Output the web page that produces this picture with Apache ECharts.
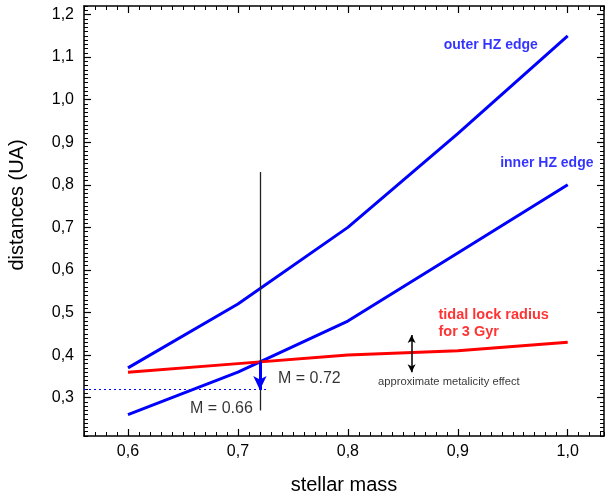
<!DOCTYPE html>
<html>
<head>
<meta charset="utf-8">
<script src="https://cdn.jsdelivr.net/npm/echarts@6/dist/echarts.min.js"></script>
<style>
  html, body { margin: 0; padding: 0; background: #fff; }
  #chart { width: 611px; height: 497px; }
</style>
</head>
<body>
<div id="chart"></div>
<script>
// stellar mass on x, distances (UA) on y
const mass = [0.6, 0.7, 0.8, 0.9, 1.0];
const outerHZ = [0.37, 0.52, 0.70, 0.92, 1.15];
const innerHZ = [0.26, 0.36, 0.48, 0.64, 0.80];
const tidalLock = [0.36, 0.38, 0.40, 0.41, 0.43];

const xTicks = [0.6, 0.7, 0.8, 0.9, 1.0];
const yTicks = [0.3, 0.4, 0.5, 0.6, 0.7, 0.8, 0.9, 1.0, 1.1, 1.2];

// annotation lines (data coords)
const massLine = [[0.72, 0.83], [0.72, 0.27]];
const massArrow = [[0.72, 0.385], [0.72, 0.318]];
const dashLevel = [[0.56, 0.32], [0.727, 0.32]];
const metalArrow = [[0.858, 0.447], [0.858, 0.36]];

const xMin = 0.56, xMax = 1.033, yMin = 0.21, yMax = 1.22;

const font = "'Liberation Sans', Arial, sans-serif";
const comma = v => v.toFixed(1).replace('.', ',');
const lineCol = '#000';

// major ticks: custom positions (labels shown, or blank labels on top/right)
function majorAxis(pos, min, max, ticks, withText, margin, extra) {
  return Object.assign({
    type: 'value', position: pos, min: min, max: max,
    axisLine: { show: true, lineStyle: { color: lineCol, width: 1.5 } },
    axisTick: { show: true, inside: true, length: 7, customValues: ticks, lineStyle: { color: lineCol, width: 1.2 } },
    axisLabel: {
      show: true, customValues: ticks,
      formatter: withText ? comma : () => '',
      color: '#000', fontSize: 16, fontFamily: font, margin: margin
    },
    splitLine: { show: false }
  }, extra || {});
}
// minor ticks every 0.01 (min is a multiple of the interval)
function minorAxis(pos, min, max) {
  return {
    type: 'value', position: pos, min: min, max: max, interval: 0.01,
    axisLine: { show: false },
    axisTick: { show: true, inside: true, length: 4, lineStyle: { color: lineCol, width: 1 } },
    axisLabel: { show: false },
    splitLine: { show: false }
  };
}

let chart = echarts.init(document.getElementById('chart'));

let option = {
  backgroundColor: '#fff',
  animation: false,
  grid: { left: 84, right: 7, top: 6, bottom: 61, containLabel: false, outerBoundsMode: 'none' },
  xAxis: [
    majorAxis('bottom', xMin, xMax, xTicks, true, 8, {
      name: 'stellar mass', nameLocation: 'middle', nameGap: 39,
      nameTextStyle: { fontSize: 20, fontFamily: font, color: '#000' }
    }),
    minorAxis('bottom', xMin, xMax),
    majorAxis('top', xMin, xMax, xTicks, false, 8),
    minorAxis('top', xMin, xMax)
  ],
  yAxis: [
    majorAxis('left', yMin, yMax, yTicks, true, 10, {
      name: 'distances (UA)', nameLocation: 'middle', nameGap: 57,
      nameTextStyle: { fontSize: 20, fontFamily: font, color: '#000', padding: [0, 0, 0, 32] }
    }),
    minorAxis('left', yMin, yMax),
    majorAxis('right', yMin, yMax, yTicks, false, 8),
    minorAxis('right', yMin, yMax)
  ],
  series: [
    {
      name: 'outer HZ edge', type: 'line', showSymbol: false,
      lineStyle: { color: '#0000ff', width: 3 },
      data: mass.map((m, i) => [m, outerHZ[i]])
    },
    {
      name: 'inner HZ edge', type: 'line', showSymbol: false,
      lineStyle: { color: '#0000ff', width: 3 },
      data: mass.map((m, i) => [m, innerHZ[i]])
    },
    {
      name: 'tidal lock radius', type: 'line', showSymbol: false,
      lineStyle: { color: '#ff0000', width: 3 },
      data: mass.map((m, i) => [m, tidalLock[i]])
    },
    { // annotation lines
      type: 'line', data: [], silent: true,
      markLine: {
        silent: true, animation: false,
        label: { show: false },
        emphasis: { disabled: true },
        data: [
          [{ coord: massLine[0], symbol: 'none', lineStyle: { color: '#222', width: 1.3, type: 'solid' } },
           { coord: massLine[1], symbol: 'none' }],
          [{ coord: dashLevel[0], symbol: 'none', lineStyle: { color: '#0000ff', width: 1.2, type: [2, 3] } },
           { coord: dashLevel[1], symbol: 'none' }],
          [{ coord: massArrow[0], symbol: 'none', lineStyle: { color: '#0000ff', width: 3, type: 'solid' } },
           { coord: massArrow[1], symbol: 'arrow', symbolSize: [10, 14] }],
          [{ coord: metalArrow[0], symbol: 'arrow', symbolSize: [6, 8], lineStyle: { color: '#000', width: 1.5, type: 'solid' } },
           { coord: metalArrow[1], symbol: 'arrow', symbolSize: [6, 8] }]
        ]
      }
    },
    { // text labels
      type: 'scatter', symbolSize: 1, silent: true,
      itemStyle: { color: 'rgba(0,0,0,0)' },
      label: { show: true, formatter: p => p.name, fontFamily: font, textBorderWidth: 0 },
      data: [
        { name: 'outer HZ edge', value: [0.93, 1.128], label: { position: 'inside', color: '#0000ff', fontWeight: 'bold', fontSize: 14 } },
        { name: 'inner HZ edge', value: [0.981, 0.851], label: { position: 'inside', color: '#0000ff', fontWeight: 'bold', fontSize: 14 } },
        { name: 'tidal lock radius\nfor 3 Gyr', value: [0.882, 0.474], label: { position: 'right', distance: 0, color: '#ff0000', fontWeight: 'bold', fontSize: 14.5, lineHeight: 17 } },
        { name: 'approximate metalicity effect', value: [0.827, 0.338], label: { position: 'right', distance: 0, color: '#000', fontSize: 11.2 } },
        { name: 'M = 0.72', value: [0.736, 0.345], label: { position: 'right', distance: 0, color: '#000', fontSize: 16 } },
        { name: 'M = 0.66', value: [0.714, 0.275], label: { position: 'left', distance: 0, color: '#000', fontSize: 16 } }
      ]
    }
  ]
};

chart.setOption(option);
window.addEventListener('resize', function () {
  chart.resize();
});
</script>
</body>
</html>
